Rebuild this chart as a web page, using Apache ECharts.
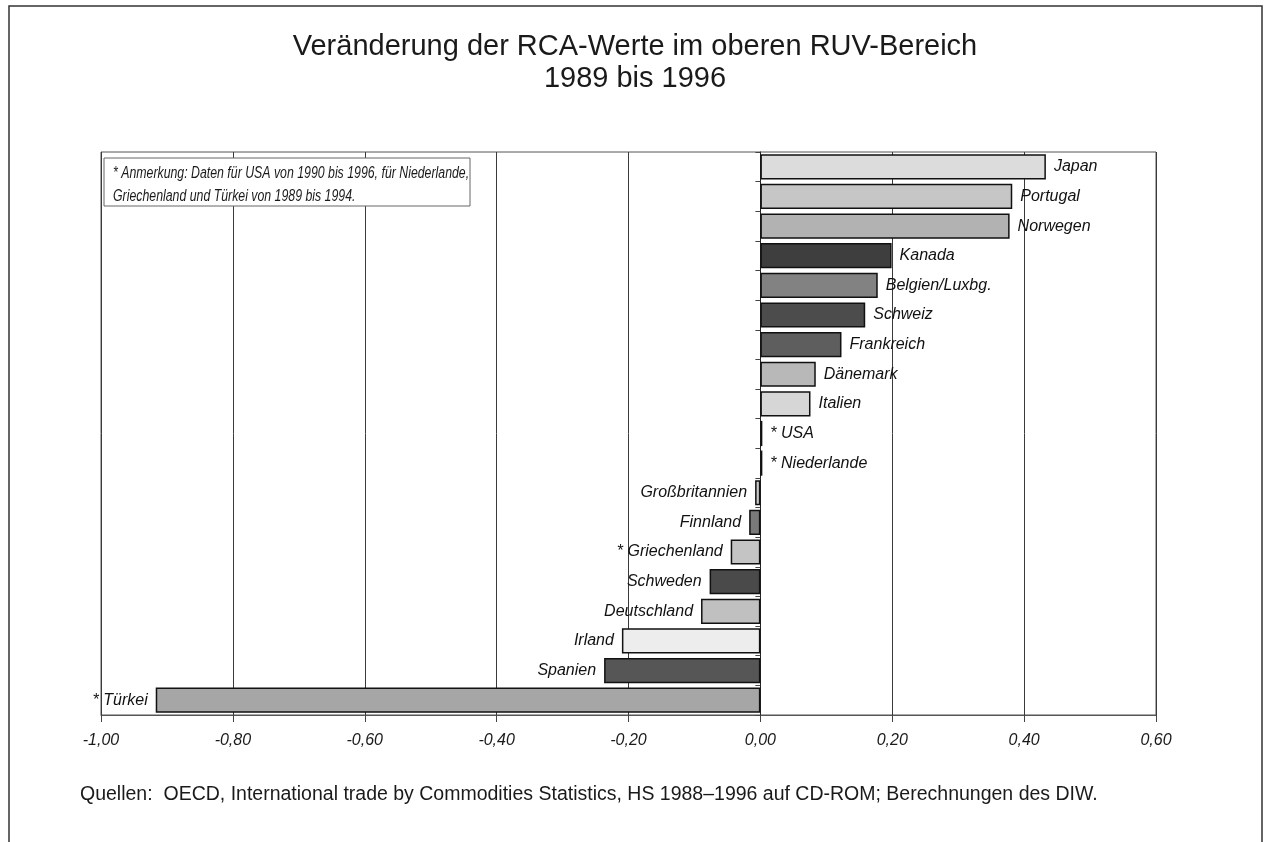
<!DOCTYPE html>
<html>
<head>
<meta charset="utf-8">
<title>RCA-Werte</title>
<script src="https://cdn.jsdelivr.net/npm/echarts@6/dist/echarts.min.js"></script>
<style>
  html, body { margin: 0; padding: 0; background: #fff; }
  #chart { width: 1270px; height: 842px; }
</style>
</head>
<body>
<div id="chart"></div>
<script>
  // Länder von oben nach unten
  var countries = ['Japan', 'Portugal', 'Norwegen', 'Kanada', 'Belgien/Luxbg.', 'Schweiz',
    'Frankreich', 'Dänemark', 'Italien', '* USA', '* Niederlande', 'Großbritannien',
    'Finnland', '* Griechenland', 'Schweden', 'Deutschland', 'Irland', 'Spanien', '* Türkei'];
  // Veränderung der RCA-Werte 1989-1996
  var rcaChange = [0.433, 0.382, 0.378, 0.199, 0.178, 0.159,
    0.123, 0.084, 0.076, 0.003, 0.003, -0.008,
    -0.017, -0.045, -0.077, -0.090, -0.210, -0.237, -0.917];
  // Graustufen der Balken (Raster im Original)
  var barColors = ['#dcdcdc', '#c6c6c6', '#b2b2b2', '#3e3e3e', '#828282', '#4c4c4c',
    '#5e5e5e', '#b8b8b8', '#d6d6d6', '#333333', '#333333', '#c8c8c8',
    '#7a7a7a', '#c4c4c4', '#4a4a4a', '#c0c0c0', '#ededed', '#565656', '#a6a6a6'];

  var font = '"Liberation Sans", Arial, Helvetica, sans-serif';

  var chart = echarts.init(document.getElementById('chart'));

  var barData = rcaChange.map(function(v, i){
    return {
      value: v,
      itemStyle: { color: barColors[i] },
      label: { position: v >= 0 ? 'right' : 'left' }
    };
  });

  chart.setOption({
    animation: false,
    title: {
      text: 'Veränderung der RCA-Werte im oberen RUV-Bereich\n1989 bis 1996',
      left: 'center',
      top: 26,
      textStyle: {
        fontFamily: font,
        fontSize: 29,
        fontWeight: 'normal',
        color: '#1a1a1a',
        lineHeight: 32
      }
    },
    grid: {
      show: true,
      left: 101,
      right: 114,
      top: 152,
      bottom: 127,
      borderColor: '#555',
      borderWidth: 1,
      backgroundColor: 'transparent'
    },
    xAxis: {
      type: 'value',
      min: -1,
      max: 0.6,
      interval: 0.2,
      axisLine: { show: true, lineStyle: { color: '#555', width: 1 } },
      axisTick: { show: true, length: 7, lineStyle: { color: '#444' } },
      splitLine: { show: true, lineStyle: { color: '#3a3a3a', width: 1 } },
      axisLabel: {
        margin: 18,
        fontFamily: font,
        fontSize: 16,
        fontStyle: 'italic',
        color: '#1a1a1a',
        formatter: function(v){
          if (Math.abs(v) < 1e-9) v = 0;
          return v.toFixed(2).replace('.', ',');
        }
      }
    },
    yAxis: {
      type: 'category',
      inverse: true,
      data: countries,
      axisLine: { show: true, onZero: true, lineStyle: { color: '#222', width: 1 } },
      axisTick: { show: true, length: 5, lineStyle: { color: '#444' } },
      axisLabel: { show: false },
      splitLine: { show: false }
    },
    series: [
      {
        name: 'RCA',
        type: 'bar',
        data: barData,
        barCategoryGap: '15%',
        itemStyle: { borderColor: '#111', borderWidth: 1.5 },
        label: {
          show: true,
          formatter: '{b}',
          distance: 8,
          fontFamily: font,
          fontSize: 16,
          fontStyle: 'italic',
          color: '#111'
        }
      }
    ],
    graphic: [
      {
        // äußerer Rahmen
        type: 'rect',
        silent: true,
        shape: { x: 9, y: 6, width: 1253, height: 850 },
        style: { fill: null, stroke: '#333', lineWidth: 1.5 }
      },
      {
        // Anmerkungskasten
        type: 'rect',
        z: 10,
        shape: { x: 104, y: 158, width: 366, height: 48 },
        style: { fill: '#fff', stroke: '#666', lineWidth: 1 }
      },
      {
        type: 'text',
        z: 11,
        x: 113,
        y: 162,
        scaleX: 0.77,
        style: {
          text: '* Anmerkung: Daten für USA von 1990 bis 1996, für Niederlande,\nGriechenland und Türkei von 1989 bis 1994.',
          font: 'italic 16px ' + font,
          fill: '#1a1a1a',
          lineHeight: 23
        }
      },
      {
        type: 'text',
        left: 80,
        top: 785,
        style: {
          text: 'Quellen:  OECD, International trade by Commodities Statistics, HS 1988\u20131996 auf CD-ROM; Berechnungen des DIW.',
          font: '19.5px ' + font,
          fill: '#1a1a1a'
        }
      }
    ]
  });
</script>
</body>
</html>
